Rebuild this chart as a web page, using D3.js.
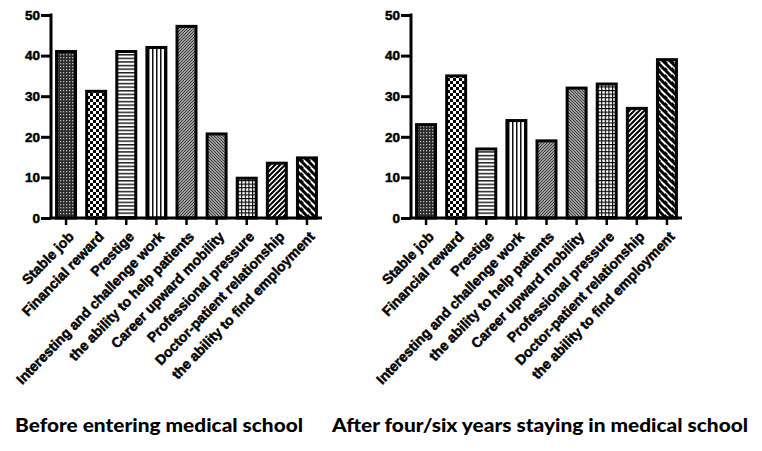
<!DOCTYPE html>
<html><head><meta charset="utf-8">
<script src="https://cdn.jsdelivr.net/npm/d3@7"></script>
<style>
html,body{margin:0;padding:0;background:#fff;}
svg{display:block;}
</style></head>
<body>
<svg id="chart" width="762" height="451"></svg>
<script>
const categories = ["Stable job","Financial reward","Prestige","Interesting and challenge work","the ability to help patients","Career upward mobility","Professional pressure","Doctor-patient relationship","the ability to find employment"];
const beforeValues = [41, 31.2, 41, 42, 47.2, 20.7, 9.8, 13.5, 14.8];
const afterValues  = [23, 35, 17, 24, 19, 32, 33, 27, 39];
const yTicks = [0,10,20,30,40,50];
const titles = ["Before entering medical school","After four/six years staying in medical school"];

const svg = d3.select("#chart");
const defs = svg.append("defs");

function pat(id, w, h, build, bg){
  const p = defs.append("pattern").attr("id", id).attr("patternUnits","userSpaceOnUse").attr("width", w).attr("height", h);
  p.append("rect").attr("width", w).attr("height", h).attr("fill", bg || "#fff");
  build(p);
}
pat("p0", 3, 3, p => { p.append("rect").attr("x",0).attr("y",0).attr("width",1.3).attr("height",1.3).attr("fill","#bbb"); }, "#2a2a2a");
pat("p1", 6, 6, p => { p.append("rect").attr("x",0).attr("y",0).attr("width",3).attr("height",3).attr("fill","#fff");
                        p.append("rect").attr("x",3).attr("y",3).attr("width",3).attr("height",3).attr("fill","#fff"); }, "#000");
pat("p2", 4, 3.6, p => { p.append("rect").attr("x",0).attr("y",0).attr("width",4).attr("height",1.5).attr("fill","#222"); });
pat("p3", 4, 4, p => { p.append("rect").attr("x",0).attr("y",0).attr("width",1.5).attr("height",4).attr("fill","#111"); });
pat("p4", 3, 3, p => { p.append("path").attr("d","M-1,1 L1,-1 M0,3 L3,0 M2,4 L4,2").attr("stroke","#333").attr("stroke-width",1.1); }, "#c8c8c8");
pat("p5", 3, 3, p => { p.append("path").attr("d","M-1,2 L1,4 M0,0 L3,3 M2,-1 L4,1").attr("stroke","#333").attr("stroke-width",1.1); }, "#c8c8c8");
pat("p6", 3.6, 3.6, p => { p.append("rect").attr("x",1.1).attr("y",1.1).attr("width",2.5).attr("height",2.5).attr("fill","#fff"); }, "#000");
pat("p7", 5, 5, p => { p.append("path").attr("d","M-1,1 L1,-1 M0,5 L5,0 M4,6 L6,4").attr("stroke","#000").attr("stroke-width",2); });
pat("p8", 7, 7, p => { p.append("path").attr("d","M-1,5 L2,8 M0,0 L7,7 M5,-2 L9,2").attr("stroke","#000").attr("stroke-width",3); });

const y = d3.scaleLinear().domain([0,50]).range([218,15]);
const labelFont = "'Liberation Sans', Arial, sans-serif";

function panel(x0, values, title, titleX, titleW){
  const g = svg.append("g");
  const x = d3.scaleBand().domain(categories).range([x0, x0+271]).paddingInner(0.37).paddingOuter(0.185);

  g.selectAll("rect.bar").data(values).join("rect")
    .attr("class","bar")
    .attr("x",(d,i)=>x(categories[i]))
    .attr("width", x.bandwidth())
    .attr("y", d=>y(d))
    .attr("height", d=>y(0)-y(d))
    .attr("fill",(d,i)=>"url(#p"+i+")")
    .attr("stroke","#000").attr("stroke-width",3);

  const ya = g.append("g").attr("transform",`translate(${x0},0)`)
    .call(d3.axisLeft(y).tickValues(yTicks).tickSize(10).tickPadding(1).tickSizeOuter(0));
  ya.select(".domain").attr("stroke-width",3).attr("d",`M0,${y(50)-1.5}V${y(0)}`);
  ya.selectAll(".tick line").attr("stroke-width",3);
  ya.selectAll(".tick text").style("font-family",labelFont).style("font-weight","700").style("font-size","13.5px")
    .attr("fill","#000").attr("stroke","#000").attr("stroke-width",0.5);

  const xa = g.append("g").attr("transform",`translate(0,${y(0)})`)
    .call(d3.axisBottom(x).tickSize(7).tickSizeOuter(0));
  xa.select(".domain").attr("stroke-width",3).attr("d",`M${x0-1.5},0H${x0+271}`);
  xa.selectAll(".tick line").attr("stroke-width",2.5);
  xa.selectAll(".tick text")
    .style("font-family",labelFont).style("font-weight","700").style("font-size","14px")
    .attr("fill","#000").attr("stroke","#000").attr("stroke-width",0.5)
    .attr("text-anchor","end").attr("x",0).attr("y",0).attr("dy","0.35em")
    .attr("transform","translate(5,16) rotate(-46)");

  svg.append("text").attr("x",titleX).attr("y",432)
    .style("font-family","Lato, 'Open Sans', sans-serif").style("font-weight","900").style("font-size","19px")
    .attr("textLength", titleW).attr("lengthAdjust","spacingAndGlyphs")
    .attr("fill","#000").text(title);
}
panel(51, beforeValues, titles[0], 15, 288);
panel(411, afterValues, titles[1], 332, 416);
</script>
</body></html>
